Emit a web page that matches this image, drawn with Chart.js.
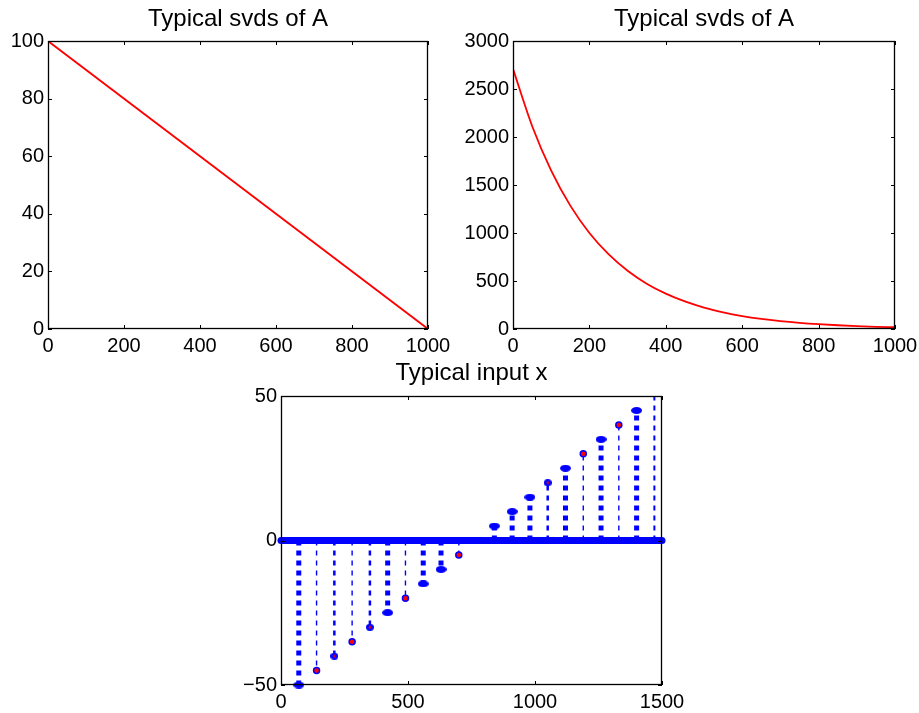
<!DOCTYPE html>
<html>
<head>
<meta charset="utf-8">
<script src="https://cdn.jsdelivr.net/npm/chart.js@4.4.0/dist/chart.umd.min.js"></script>
<style>
body { margin: 0; background: #fff; width: 919px; height: 713px; position: relative; overflow: hidden; }
canvas { position: absolute; }
</style>
</head>
<body>
<canvas id="svdLinear" width="476" height="365" style="left:0;top:0"></canvas>
<canvas id="svdExp" width="488" height="365" style="left:460px;top:0"></canvas>
<canvas id="inputX" width="583" height="363" style="left:180px;top:350px"></canvas>
<script>
// top left: singular values going down in a straight line
var linX = [0, 1000];
var linY = [100, 0];
var linXTicks = [0, 200, 400, 600, 800, 1000];
var linYTicks = [0, 20, 40, 60, 80, 100];

var expX = [0, 50, 100, 150, 200, 250, 300, 350, 400, 450, 500, 550, 600, 650, 700, 750, 800, 850, 900, 950, 1000];
var expY = [2710, 2115, 1650, 1285, 1000, 780, 607, 472, 368, 287, 223, 174, 135, 105, 82, 64, 50, 39, 30, 23, 18];
var expXTicks = [0, 200, 400, 600, 800, 1000];
var expYTicks = [0, 500, 1000, 1500, 2000, 2500, 3000];

// bottom: nonzero entries of the input x (everything else is 0)
var spikeX = [70, 140, 210, 280, 350, 420, 490, 560, 630, 700, 840, 910, 980, 1050, 1120, 1190, 1260, 1330, 1400, 1470];
var spikeY = [-50, -45, -40, -35, -30, -25, -20, -15, -10, -5, 5, 10, 15, 20, 25, 30, 35, 40, 45, 50];
var baseX = [0, 1500];
var inXTicks = [0, 500, 1000, 1500];
var inYTicks = [-50, 0, 50];

// how each stem is drawn (separate from the values)
var spikeLook = ['thick', 'thin', 'mid', 'thin', 'mid', 'thick', 'thin', 'thick', 'thick', 'thin',
                 'thick', 'thick', 'thick', 'mid', 'thick', 'thin', 'thick', 'thin', 'thick', 'top'];

var BLUE = '#0000ff';
var RED = '#ff0000';

Chart.defaults.font.family = '"Liberation Sans", Arial, Helvetica, sans-serif';
Chart.defaults.font.size = 20;
Chart.defaults.color = '#000';

function axis(pos, min, max, ticks, size) {
  return {
    type: 'linear',
    position: pos,
    min: min,
    max: max,
    grid: { display: false, drawTicks: false },
    border: { display: false },
    afterBuildTicks: function (s) {
      s.ticks = ticks.map(function (v) { return { value: v }; });
    },
    afterFit: function (s) {
      if (pos === 'left') s.width = size; else s.height = size;
    },
    ticks: {
      padding: pos === 'left' ? 4 : 5,
      maxRotation: 0,
      autoSkip: false,
      callback: function (v) { return String(v).replace('-', '\u2212'); }
    }
  };
}

// empty axis on the right so the title sits centred over the plot box
function spacer(size) {
  return {
    position: 'right',
    grid: { display: false, drawTicks: false },
    border: { display: false },
    ticks: { display: false },
    afterFit: function (s) { s.width = size; }
  };
}

// matlab style box with inward ticks on all four sides
var framePlugin = {
  id: 'frame',
  afterDatasetsDraw: function (chart) {
    var a = chart.chartArea, ctx = chart.ctx;
    var xs = chart.scales.x, ys = chart.scales.y;
    ctx.save();
    ctx.strokeStyle = '#000';
    ctx.lineWidth = 1;
    ctx.beginPath();
    xs.ticks.forEach(function (t) {
      var px = Math.round(xs.getPixelForValue(t.value)) + 0.5;
      ctx.moveTo(px, a.bottom); ctx.lineTo(px, a.bottom - 4);
      ctx.moveTo(px, a.top); ctx.lineTo(px, a.top + 4);
    });
    ys.ticks.forEach(function (t) {
      var py = Math.round(ys.getPixelForValue(t.value)) + 0.5;
      ctx.moveTo(a.left, py); ctx.lineTo(a.left + 4, py);
      ctx.moveTo(a.right, py); ctx.lineTo(a.right - 4, py);
    });
    ctx.stroke();
    ctx.lineWidth = 1.3;
    ctx.strokeRect(Math.round(a.left) + 0.5, Math.round(a.top) + 0.5,
                   Math.round(a.right - a.left) - 1, Math.round(a.bottom - a.top) - 1);
    ctx.restore();
  }
};

function baseOptions(title, titlePad, xAxis, yAxis, sideW) {
  return {
    responsive: false,
    animation: false,
    layout: { padding: 0 },
    plugins: {
      legend: { display: false },
      tooltip: { enabled: false },
      title: {
        display: true,
        text: title,
        font: { size: 24, weight: 'normal', lineHeight: 1.2 },
        padding: titlePad
      }
    },
    scales: { x: xAxis, y: yAxis, side: spacer(sideW) }
  };
}

function pairs(xs, ys) {
  return xs.map(function (x, i) { return { x: x, y: ys[i] }; });
}

new Chart(document.getElementById('svdLinear'), {
  type: 'scatter',
  data: {
    datasets: [{
      data: pairs(linX, linY),
      showLine: true,
      borderColor: RED,
      borderWidth: 1.8,
      pointRadius: 0
    }]
  },
  options: baseOptions('Typical svds of A', { top: 4.5, bottom: 7.7 },
    axis('bottom', 0, 1000, linXTicks, 36),
    axis('left', 0, 100, linYTicks, 48), 48),
  plugins: [framePlugin]
});

new Chart(document.getElementById('svdExp'), {
  type: 'scatter',
  data: {
    datasets: [{
      data: pairs(expX, expY),
      showLine: true,
      borderColor: RED,
      borderWidth: 1.8,
      pointRadius: 0,
      cubicInterpolationMode: 'monotone'
    }]
  },
  options: baseOptions('Typical svds of A', { top: 4.5, bottom: 7.7 },
    axis('bottom', 0, 1000, expXTicks, 36),
    axis('left', 0, 3000, expYTicks, 53), 53),
  plugins: [framePlugin]
});

// marker pictures for the stems
function markCanvas(w, h, dot) {
  var c = document.createElement('canvas');
  c.width = w; c.height = h;
  var g = c.getContext('2d');
  g.fillStyle = BLUE;
  g.beginPath();
  g.ellipse(w / 2, h / 2, w / 2, h / 2, 0, 0, Math.PI * 2);
  g.fill();
  if (dot) {
    g.fillStyle = RED;
    g.beginPath();
    g.arc(w / 2, h / 2, 1.2, 0, Math.PI * 2);
    g.fill();
  }
  return c;
}
var ovalMark = markCanvas(11, 7, false);
var midMark = markCanvas(8, 7, true);

var looks = {
  thick: { width: 5, dash: [5, 5], style: ovalMark, r: 4, fill: BLUE },
  mid:   { width: 2.5, dash: [5, 5], style: midMark, r: 4, fill: BLUE },
  thin:  { width: 1.4, dash: [5, 5], style: 'circle', r: 3, fill: RED },
  top:   { width: 2, dash: [5, 5], style: 'circle', r: 0, fill: BLUE }
};

var stemSets = spikeX.map(function (x, i) {
  var lk = looks[spikeLook[i]];
  return {
    data: [{ x: x, y: 0 }, { x: x, y: spikeY[i] }],
    showLine: true,
    borderColor: BLUE,
    borderWidth: lk.width,
    borderDash: lk.dash,
    borderCapStyle: 'butt',
    pointRadius: [0, lk.r],
    pointStyle: ['circle', lk.style],
    pointBackgroundColor: lk.fill,
    pointBorderColor: BLUE,
    pointBorderWidth: 1.5,
    clip: false
  };
});

var baseline = {
  data: pairs(baseX, [0, 0]),
  showLine: true,
  borderColor: BLUE,
  borderWidth: 7,
  borderCapStyle: 'round',
  pointRadius: 0,
  clip: false
};

new Chart(document.getElementById('inputX'), {
  type: 'scatter',
  data: { datasets: [baseline].concat(stemSets) },
  options: baseOptions('Typical input x', { top: 8.6, bottom: 8.6 },
    axis('bottom', 0, 1500, inXTicks, 28),
    axis('left', -50, 50, inYTicks, 101), 101),
  plugins: [framePlugin]
});
</script>
</body>
</html>
